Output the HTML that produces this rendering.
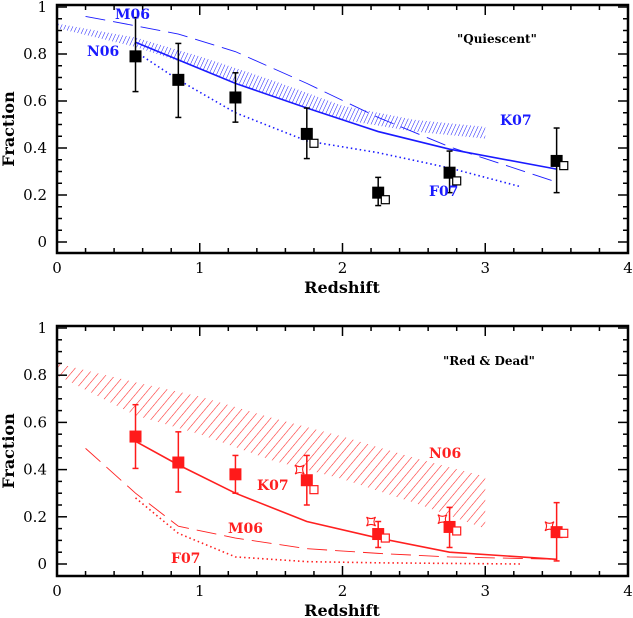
<!DOCTYPE html>
<html><head><meta charset="utf-8"><style>
html,body{margin:0;padding:0;background:#fff;}
svg{display:block;font-family:"DejaVu Serif","Liberation Serif",serif;}
</style></head><body>
<svg id="c" width="633" height="618" viewBox="0 0 633 618" xmlns="http://www.w3.org/2000/svg"></svg>
<script>
// ---- data: top panel "Quiescent" ----
const topZ = [0.55, 0.85, 1.25, 1.75, 2.25, 2.75, 3.5];
const topFrac = [0.79, 0.69, 0.615, 0.46, 0.21, 0.295, 0.345];
const topErrLo = [0.64, 0.53, 0.51, 0.355, 0.155, 0.21, 0.21];
const topErrHi = [0.955, 0.845, 0.72, 0.57, 0.275, 0.387, 0.485];
const topOpenZ = [1.8, 2.3, 2.8, 3.55];
const topOpenFrac = [0.42, 0.18, 0.26, 0.325];
const topK07Z = [0.55, 0.85, 1.25, 1.75, 2.25, 2.75, 3.5];
const topK07 = [0.85, 0.775, 0.675, 0.57, 0.47, 0.395, 0.31];
const topF07Z = [0.55, 0.85, 1.25, 1.75, 2.25, 2.75, 3.25];
const topF07 = [0.81, 0.69, 0.55, 0.43, 0.38, 0.315, 0.235];
const topM06Z = [0.2, 0.55, 0.85, 1.25, 1.75, 2.25, 2.75, 3.5];
const topM06 = [0.96, 0.92, 0.885, 0.81, 0.675, 0.53, 0.405, 0.255];
const topN06Z = [0, 0.55, 1.0, 1.5, 2.0, 2.5, 3.0];
const topN06Hi = [0.93, 0.87, 0.79, 0.69, 0.58, 0.52, 0.49];
const topN06Lo = [0.91, 0.83, 0.74, 0.62, 0.52, 0.47, 0.44];
// ---- data: bottom panel "Red & Dead" ----
const botZ = [0.55, 0.85, 1.25, 1.75, 2.25, 2.75, 3.5];
const botFrac = [0.54, 0.43, 0.38, 0.355, 0.127, 0.157, 0.135];
const botErrLo = [0.405, 0.305, 0.30, 0.25, 0.07, 0.07, 0.013];
const botErrHi = [0.675, 0.56, 0.46, 0.46, 0.18, 0.24, 0.26];
const botOpenZ = [1.8, 2.3, 2.8, 3.55];
const botOpenFrac = [0.315, 0.11, 0.14, 0.13];
const botStarZ = [1.7, 2.2, 2.7, 3.45];
const botStarFrac = [0.40, 0.18, 0.19, 0.16];
const botK07Z = [0.55, 0.85, 1.25, 1.75, 2.25, 2.75, 3.5];
const botK07 = [0.52, 0.42, 0.30, 0.18, 0.11, 0.05, 0.02];
const botM06Z = [0.2, 0.55, 0.85, 1.25, 1.75, 2.25, 2.75, 3.5];
const botM06 = [0.49, 0.30, 0.16, 0.11, 0.065, 0.045, 0.03, 0.02];
const botF07Z = [0.55, 0.85, 1.25, 1.75, 2.25, 3.25];
const botF07 = [0.28, 0.13, 0.03, 0.01, 0.005, 0.0];
const botN06Z = [0, 0.55, 1.0, 1.5, 2.0, 2.5, 3.0];
const botN06Hi = [0.85, 0.77, 0.71, 0.62, 0.54, 0.45, 0.37];
const botN06Lo = [0.80, 0.63, 0.55, 0.44, 0.36, 0.26, 0.15];
const xTicks = ["0","1","2","3","4"];
const yTicks = ["0","0.2","0.4","0.6","0.8","1"];

const NS = "http://www.w3.org/2000/svg";
const svg = document.getElementById('c');
function mk(tag, attrs, parent, name) {
  const e = document.createElementNS(NS, tag);
  for (const k in attrs) e.setAttribute(k, attrs[k]);
  
  
  (parent || svg).appendChild(e);
  return e;
}
function panel(P) {
  const g = mk('g', {}, svg, P.name);
  const X = z => 57 + z * 142.75;
  const Y = f => P.y0 - f * P.ys;
  const pid = P.name + '-hatch';
  const defs = mk('defs', {}, g, 'hatch-defs');
  const pat = mk('pattern', {id: pid, width: P.hw, height: P.hw, patternUnits: 'userSpaceOnUse', patternTransform: 'rotate(' + P.hr + ')'}, defs, 'hatch-pattern');
  mk('line', {x1: 0, y1: 0, x2: 0, y2: P.hw, stroke: P.col, 'stroke-width': P.hsw}, pat, 'hatch-line');
  let d = '';
  P.bz.forEach((z, i) => d += (i ? 'L' : 'M') + X(z) + ',' + Y(P.bh[i]));
  for (let i = P.bz.length - 1; i >= 0; i--) d += 'L' + X(P.bz[i]) + ',' + Y(P.bl[i]);
  mk('path', {d: d + 'Z', fill: 'url(#' + pid + ')'}, g, 'n06-band');
  const line = (zs, fs, dash, name, w) => {
    mk('polyline', {points: zs.map((z, i) => X(z) + ',' + Y(fs[i])).join(' '), fill: 'none', stroke: P.col, 'stroke-width': w, 'stroke-dasharray': dash}, g, name);
  };
  line(P.kz, P.k, 'none', 'k07-line', 1.6);
  line(P.mz, P.m, '20,8', 'm06-line', 0.9);
  line(P.fz, P.f, '1.5,3', 'f07-line', 1.6);
  P.z.forEach((z, i) => {
    mk('line', {x1: X(z), x2: X(z), y1: Y(P.lo[i]), y2: Y(P.hi[i]), stroke: P.pc, 'stroke-width': 1.5}, g, 'error-bar');
    mk('line', {x1: X(z) - 3, x2: X(z) + 3, y1: Y(P.lo[i]), y2: Y(P.lo[i]), stroke: P.pc, 'stroke-width': 1.5}, g, 'error-cap-low');
    mk('line', {x1: X(z) - 3, x2: X(z) + 3, y1: Y(P.hi[i]), y2: Y(P.hi[i]), stroke: P.pc, 'stroke-width': 1.5}, g, 'error-cap-high');
    mk('rect', {x: X(z) - 6, y: Y(P.fr[i]) - 6, width: 12, height: 12, fill: P.pc}, g, 'data-point');
  });
  P.oz.forEach((z, i) => {
    mk('rect', {x: X(z) - 4, y: Y(P.of[i]) - 4, width: 8, height: 8, fill: '#fff', stroke: P.pc, 'stroke-width': 1.2}, g, 'open-point');
  });
  if (P.sz) P.sz.forEach((z, i) => {
    const cx = X(z), cy = Y(P.sf[i]), r = 4.5, q = 1.3;
    mk('path', {d: `M${cx-r},${cy-r}Q${cx},${cy-q} ${cx+r},${cy-r}Q${cx+q},${cy} ${cx+r},${cy+r}Q${cx},${cy+q} ${cx-r},${cy+r}Q${cx-q},${cy} ${cx-r},${cy-r}Z`, fill: 'none', stroke: P.pc, 'stroke-width': 1.1}, g, 'star-point');
  });
  const top = P.top, bot = P.bot;
  mk('rect', {x: 57, y: top, width: 571, height: bot - top, fill: 'none', stroke: '#000', 'stroke-width': 2.5}, g, 'plot-frame');
  for (let k = 0; k <= 20; k++) {
    const x = X(k * 0.2), L = k % 5 === 0 ? 10 : 5;
    mk('line', {x1: x, x2: x, y1: bot, y2: bot - L, stroke: '#000', 'stroke-width': 1.5}, g, 'x-tick');
    mk('line', {x1: x, x2: x, y1: top, y2: top + L, stroke: '#000', 'stroke-width': 1.5}, g, 'x-tick-top');
  }
  for (let k = 0; k <= 20; k++) {
    const y = Y(k * 0.05), L = k % 4 === 0 ? 10 : 5;
    if (y < top || y > bot) continue;
    mk('line', {x1: 57, x2: 57 + L, y1: y, y2: y, stroke: '#000', 'stroke-width': 1.5}, g, 'y-tick');
    mk('line', {x1: 628, x2: 628 - L, y1: y, y2: y, stroke: '#000', 'stroke-width': 1.5}, g, 'y-tick-right');
  }
  xTicks.forEach((t, i) => { const e = mk('text', {x: X(i), y: bot + 20, 'text-anchor': 'middle', 'font-size': 15}, g, 'x-tick-label'); e.textContent = t; });
  yTicks.forEach((t, i) => { const e = mk('text', {x: 47, y: Y(i * 0.2) + 5, 'text-anchor': 'end', 'font-size': 15}, g, 'y-tick-label'); e.textContent = t; });
  let e = mk('text', {x: 342, y: bot + 40, 'text-anchor': 'middle', 'font-size': 16, 'font-weight': 'bold'}, g, 'x-axis-title'); e.textContent = 'Redshift';
  e = mk('text', {x: 14, y: (top + bot) / 2, 'text-anchor': 'middle', 'font-size': 16, 'font-weight': 'bold', transform: `rotate(-90 14 ${(top + bot) / 2})`}, g, 'y-axis-title'); e.textContent = 'Fraction';
  P.labels.forEach(l => { const t = mk('text', {x: l[1], y: l[2], 'font-size': l[3] || 14, fill: l[4] || P.col, 'font-weight': 'bold'}, g, l[5]); t.textContent = l[0]; });
}
panel({name: 'quiescent-panel', y0: 242, ys: 235, top: 5, bot: 253, col: '#1a1aff', pc: '#000', hw: 3.5, hr: 25, hsw: 1,
  z: topZ, fr: topFrac, lo: topErrLo, hi: topErrHi, oz: topOpenZ, of: topOpenFrac,
  kz: topK07Z, k: topK07, fz: topF07Z, f: topF07, mz: topM06Z, m: topM06, bz: topN06Z, bh: topN06Hi, bl: topN06Lo,
  labels: [['M06', 115, 19, 14, null, 'm06-label'], ['N06', 87, 56, 14, null, 'n06-label'], ['K07', 500, 125, 14, null, 'k07-label'], ['F07', 429, 196, 14, null, 'f07-label'], ['"Quiescent"', 457, 43, 12, '#000', 'panel-title']]});
panel({name: 'red-dead-panel', y0: 564, ys: 236, top: 326, bot: 576, col: '#ff2020', pc: '#ff1a1a', hw: 7, hr: 40, hsw: 1.1,
  z: botZ, fr: botFrac, lo: botErrLo, hi: botErrHi, oz: botOpenZ, of: botOpenFrac, sz: botStarZ, sf: botStarFrac,
  kz: botK07Z, k: botK07, fz: botF07Z, f: botF07, mz: botM06Z, m: botM06, bz: botN06Z, bh: botN06Hi, bl: botN06Lo,
  labels: [['N06', 429, 458, 14, null, 'n06-label'], ['K07', 257, 490, 14, null, 'k07-label'], ['M06', 228, 533, 14, null, 'm06-label'], ['F07', 171, 563, 14, null, 'f07-label'], ['"Red & Dead"', 443, 365, 12, '#000', 'panel-title']]});
</script>
</body></html>
